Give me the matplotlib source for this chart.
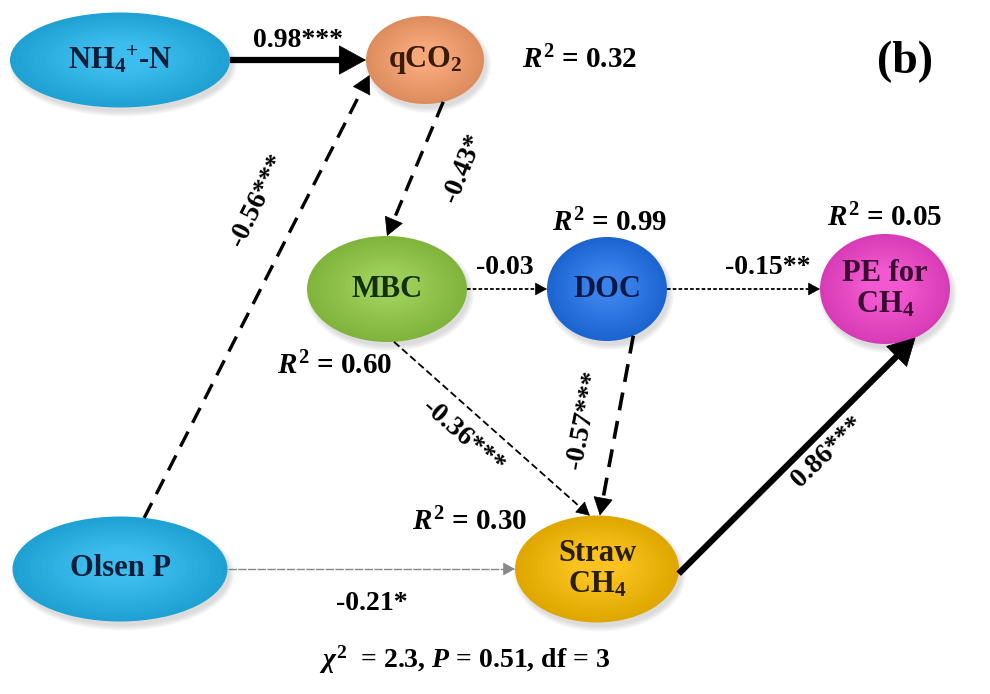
import numpy as np
import matplotlib
matplotlib.use("Agg")
import matplotlib.pyplot as plt
from matplotlib.patches import Ellipse
from matplotlib.colors import to_rgb

plt.rcParams["font.family"] = ["Liberation Serif", "DejaVu Serif"]
plt.rcParams["font.weight"] = "bold"
plt.rcParams["mathtext.fontset"] = "custom"
plt.rcParams["mathtext.rm"] = "Liberation Serif:bold"
plt.rcParams["mathtext.it"] = "Liberation Serif:italic:bold"
plt.rcParams["mathtext.bf"] = "Liberation Serif:bold"

# --- data ---
node_ids = ["NH4", "qCO2", "MBC", "DOC", "PE", "Straw", "Olsen"]
node_labels = [r"NH$_4$$^{+}$-N", r"qCO$_2$", "MBC", "DOC",
               "PE for\nCH$_4$", "Straw\nCH$_4$", "Olsen P"]
node_r2 = [None, 0.32, 0.60, 0.99, 0.05, 0.30, None]

path_src = ["NH4", "Olsen", "qCO2", "MBC", "DOC", "MBC", "DOC", "Straw", "Olsen"]
path_dst = ["qCO2", "qCO2", "MBC", "DOC", "PE", "Straw", "Straw", "PE", "Straw"]
path_coef = [0.98, -0.56, -0.43, -0.03, -0.15, -0.36, -0.57, 0.86, -0.21]
path_sig = ["***", "***", "*", "", "**", "***", "***", "***", "*"]

chi2, p_value, dof = 2.3, 0.51, 3
panel = "(b)"

# --- layout (pixel space) ---
node_pos = {"NH4": (120, 60), "qCO2": (425, 60), "MBC": (387, 289),
            "DOC": (607, 289), "PE": (885, 289), "Straw": (597, 569),
            "Olsen": (120, 569)}
node_size = {"NH4": (220, 95), "qCO2": (118, 88), "MBC": (160, 106),
             "DOC": (120, 104), "PE": (130, 110), "Straw": (164, 107),
             "Olsen": (215, 105)}
node_color = {"NH4": "#22B4EA", "qCO2": "#F69C68", "MBC": "#8FC842",
              "DOC": "#1F70E8", "PE": "#F042CA", "Straw": "#F8BA00",
              "Olsen": "#22B4EA"}
text_color = {"NH4": "#0E1E3A", "qCO2": "#3A1A0A", "MBC": "#143010",
              "DOC": "#0A1A45", "PE": "#3A0A30", "Straw": "#2A1E00",
              "Olsen": "#0E1E3A"}
r2_pos = {"qCO2": (580, 60), "MBC": (335, 366), "DOC": (610, 223),
          "PE": (885, 218), "Straw": (470, 522)}

# anchor angles on source / target ellipse, line width, dash, head scale, colour
path_style = [
    (0, 180, 4.5, None, 34, "black"),
    (77, 200, 2.4, (5, 3), 22, "black"),
    (-72, 90, 2.4, (5, 3), 22, "black"),
    (0, 180, 1.3, (2, 1.2), 14, "black"),
    (0, 180, 1.3, (2, 1.2), 14, "black"),
    (-85, 95, 1.3, (4, 2), 16, "black"),
    (-64, 88, 2.6, (5, 3), 22, "black"),
    (-5, -62, 4.5, None, 34, "black"),
    (0, 180, 1.0, (6, 1), 14, "#888888"),
]
label_pos = [(298, 40, 0), (258, 200, 64), (463, 168, 68), (505, 267, 0),
             (768, 267, 0), (463, 437, -41), (584, 420, 79), (828, 452, 44),
             (372, 603, 0)]


def anchor(nid, ang):
    cx, cy = node_pos[nid]
    w, h = node_size[nid]
    t = np.deg2rad(ang)
    return np.array([cx + w / 2 * np.cos(t), cy - h / 2 * np.sin(t)])


def draw_node(ax, nid, label):
    cx, cy = node_pos[nid]
    w, h = node_size[nid]
    base = np.array(to_rgb(node_color[nid]))
    # soft shadow
    for k in range(6):
        ax.add_patch(Ellipse((cx + 3, cy + 5), w + 8 - k * 2, h + 8 - k * 2,
                             color="#888888", alpha=0.05, lw=0, zorder=2))
    n = 14
    for i in range(n):
        s = 1 - i / n * 0.75
        f = i / (n - 1)
        col = base * (0.9 + 0.1 * f) + (1 - base) * 0.12 * f
        ax.add_patch(Ellipse((cx, cy - (1 - s) * h * 0.05), w * s, h * s,
                             color=np.clip(col, 0, 1), lw=0, zorder=3))
    ax.text(cx, cy, label, ha="center", va="center", fontsize=22,
            color=text_color[nid], fontweight="bold", zorder=6,
            linespacing=1.1)


fig = plt.figure(figsize=(9.9, 6.94), dpi=100)
ax = fig.add_axes([0, 0, 1, 1])
ax.set_xlim(0, 990)
ax.set_ylim(694, 0)
ax.axis("off")

for nid, lab in zip(node_ids, node_labels):
    draw_node(ax, nid, lab)

for nid, r2 in zip(node_ids, node_r2):
    if r2 is None:
        continue
    x, y = r2_pos[nid]
    ax.text(x, y, r"$R^2$" + f" = {r2:.2f}", ha="center", va="center",
            fontsize=21, zorder=7)

for src, dst, coef, sig, st, lp in zip(path_src, path_dst, path_coef,
                                       path_sig, path_style, label_pos):
    a0, a1, lw, dash, ms, col = st
    p0 = anchor(src, a0)
    p1 = anchor(dst, a1)
    u = (p1 - p0) / np.linalg.norm(p1 - p0)
    head = ms * 0.55
    pm = p1 - u * head
    line, = ax.plot([p0[0], pm[0]], [p0[1], pm[1]], color=col, lw=lw,
                    solid_capstyle="butt", zorder=4)
    if dash is not None:
        line.set_dashes(dash)
    ax.annotate("", xy=p1, xytext=p1 - u * head * 1.05,
                arrowprops=dict(arrowstyle="-|>,head_length=0.55,head_width=0.3",
                                mutation_scale=ms, color=col, lw=0.5,
                                shrinkA=0, shrinkB=0), zorder=5)
    txt = f"{coef:.2f}" + sig
    ax.text(lp[0], lp[1], txt, ha="center", va="center", rotation=lp[2],
            fontsize=20, zorder=7, rotation_mode="anchor")

ax.text(905, 62, panel, ha="center", va="center", fontsize=33,
        fontweight="bold")
ax.text(465, 660, r"$\chi^2$" + f"  = {chi2}, " + r"$P$" + f" = {p_value}, df = {dof}",
        ha="center", va="center", fontsize=20)

fig.savefig("out.png", dpi=100)
